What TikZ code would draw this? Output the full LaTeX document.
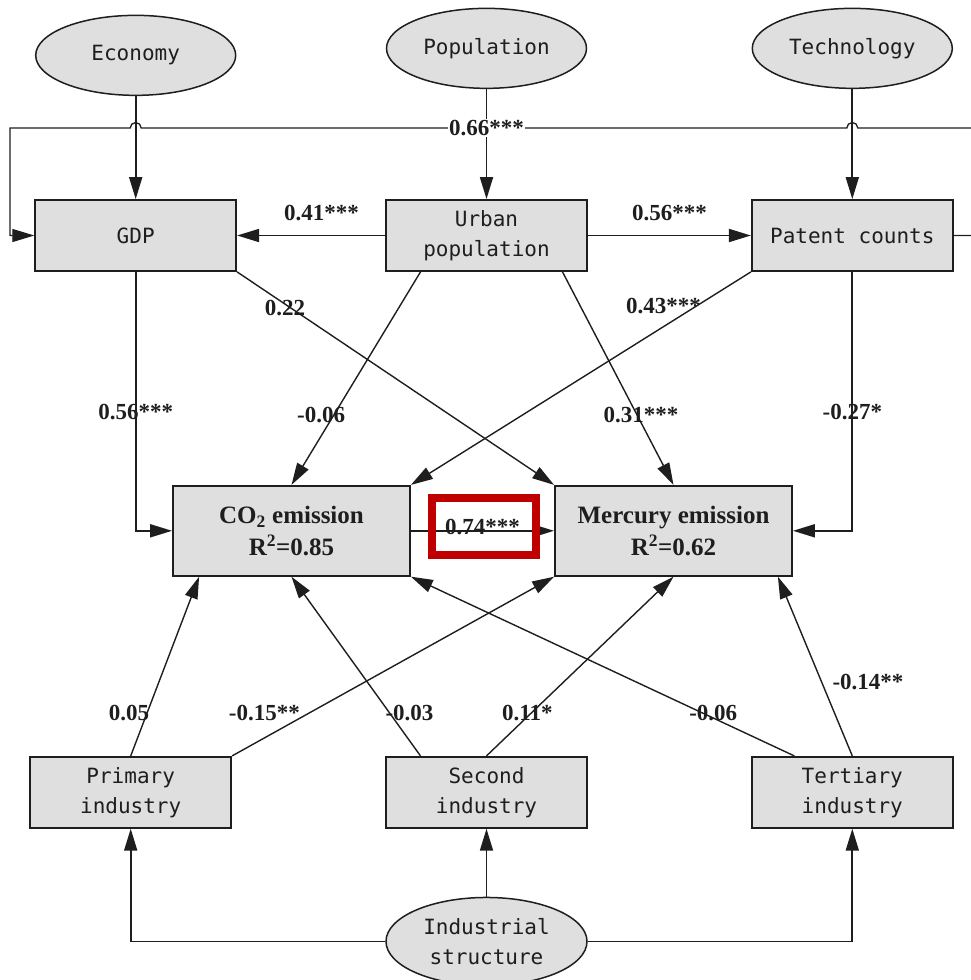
\documentclass[tikz,border=0pt]{standalone}
\usepackage{fontspec}
\setmainfont{Liberation Serif}
\setmonofont{DejaVu Sans Mono}
\usepackage{xcolor}
\usepackage{tikz}
\usetikzlibrary{arrows.meta,positioning,shapes.geometric,calc}
\definecolor{cinzaCaixa}{HTML}{DFDFE0}
\definecolor{traco}{HTML}{1E1E1E}
\definecolor{vermelhoDestaque}{HTML}{C00000}
\tikzset{
    caixa/.style={
        rectangle,
        draw=traco,
        line width=1.8pt,
        fill=cinzaCaixa,
        text=traco,
        align=center,
        inner sep=0pt,
        minimum width=201pt,
        minimum height=71pt,
        font=\ttfamily\fontsize{21}{30}\selectfont
    },
    caixaEmissao/.style={
        caixa,
        minimum width=237pt,
        minimum height=90pt,
        font=\rmfamily\bfseries\fontsize{25}{32}\selectfont
    },
    latente/.style={
        ellipse,
        draw=traco,
        line width=1.5pt,
        fill=cinzaCaixa,
        text=traco,
        align=center,
        inner sep=0pt,
        minimum width=200pt,
        minimum height=80pt,
        font=\ttfamily\fontsize{21}{30}\selectfont
    },
    seta/.style={-{Triangle[length=22pt, width=13pt]}, line width=1.8pt, draw=traco},
    setaDiag/.style={seta, line width=1.4pt},
    coef/.style={font=\rmfamily\bfseries\fontsize{23}{26}\selectfont, inner sep=2pt, text=traco},
    destaque/.style={draw=vermelhoDestaque, line width=8pt, minimum width=104pt, minimum height=57pt, inner sep=0pt}
}

\begin{document}
\begin{tikzpicture}[x=1pt, y=1pt]
    \useasboundingbox (0,0) rectangle (971,-980);
    \clip (0,0) rectangle (971,-980);

    % linha de cima
    \node[caixa] (urbana) at (486.5,-235.5) {Urban\\population};
    \node[caixa, left=148pt of urbana] (gdp) {GDP};
    \node[caixa, right=163pt of urbana] (patente) {Patent counts};
    \node[latente, above=110pt of urbana] (populacao) {Population};
    \node[latente, above=103pt of gdp] (economia) {Economy};
    \node[latente, above=110pt of patente] (tecnologia) {Technology};

    % emissoes
    \node[caixaEmissao, below=213pt of urbana, xshift=-195pt] (co2)
        {CO\textsubscript{2} emission\\R\textsuperscript{2}=0.85};
    \node[caixaEmissao, below=213pt of urbana, xshift=187pt] (mercurio)
        {Mercury emission\\R\textsuperscript{2}=0.62};

    % industrias
    \node[caixa, below=484pt of urbana] (segunda) {Second\\industry};
    \node[caixa, left=153pt of segunda] (primaria) {Primary\\industry};
    \node[caixa, right=163pt of segunda] (terciaria) {Tertiary\\industry};
    \node[latente, below=68pt of segunda, minimum width=201pt, minimum height=88pt] (estrutura)
        {Industrial\\structure};

    % laco de cima (patent -> GDP)
    \coordinate (dirSup) at (990,-128);
    \coordinate (esqSup) at (10,-128);
    \draw[seta, line width=1.3pt] (patente.east) -| (dirSup)
        -- ($(tecnologia.south |- dirSup)+(5.5,0)$) arc[start angle=0, end angle=180, radius=5.5pt]
        -- ($(economia.south |- dirSup)+(5.5,0)$) arc[start angle=0, end angle=180, radius=5.5pt]
        -- (esqSup) |- (gdp.west);

    \draw[seta] (economia.south) -- (gdp.north);
    \draw[seta] (populacao.south) -- (urbana.north);
    \draw[seta] (tecnologia.south) -- (patente.north);
    \node[coef, fill=white, inner sep=1pt] (rotuloLaco) at (populacao.south |- dirSup) {0.66***};

    \draw[seta] (urbana) -- node[coef, above=12pt, pos=0.43] {0.41***} (gdp);
    \draw[seta] (urbana) -- node[coef, above=12pt] {0.56***} (patente);

    \draw[seta] (gdp.south) |- node[coef, pos=0.27] {0.56***} (co2.west);
    \draw[setaDiag] (gdp.south east) -- node[coef, pos=0.17, xshift=-6pt] {0.22} (mercurio.north west);
    \draw[setaDiag] ([xshift=-66pt]urbana.south) -- node[coef, pos=0.67, xshift=-13pt] {-0.06} (co2.north);
    \draw[setaDiag] ([xshift=76pt]urbana.south) -- node[coef, pos=0.67, xshift=4pt] {0.31***} (mercurio.north);
    \draw[setaDiag] (patente.south west) -- node[coef, pos=0.16, xshift=-33pt] {0.43***} (co2.north east);
    \draw[seta] (patente.south) |- node[coef, pos=0.27] {-0.27*} (mercurio.east);

    \draw[seta] (co2) -- node[coef, yshift=4pt] {0.74***} (mercurio);

    \draw[setaDiag] (primaria.north) -- node[coef, pos=0.24, xshift=-18pt] {0.05} ([xshift=27pt]co2.south west);
    \draw[setaDiag] (primaria.north east) -- node[coef, pos=0.24, xshift=-45pt] {-0.15**} (mercurio.south west);
    \draw[setaDiag] ([xshift=-66pt]segunda.north) -- node[coef, pos=0.24, xshift=20pt] {-0.03} (co2.south);
    \draw[setaDiag] (segunda.north) -- node[coef, pos=0.24, xshift=-4pt] {0.11*} (mercurio.south);
    \draw[setaDiag] ([xshift=-58pt]terciaria.north) -- node[coef, pos=0.24, xshift=11pt] {-0.06} (co2.south east);
    \draw[setaDiag] (terciaria.north) -- node[coef, pos=0.41, right=8pt] {-0.14**} ([xshift=-15pt]mercurio.south east);

    \draw[seta] (estrutura.west) -| (primaria.south);
    \draw[seta] (estrutura.north) -- (segunda.south);
    \draw[seta] (estrutura.east) -| (terciaria.south);

    % destaque vermelho
    \node[destaque] (realce) at ($(co2.east)!0.5!(mercurio.west)+(1.5,4.5)$) {};
\end{tikzpicture}
\end{document}
